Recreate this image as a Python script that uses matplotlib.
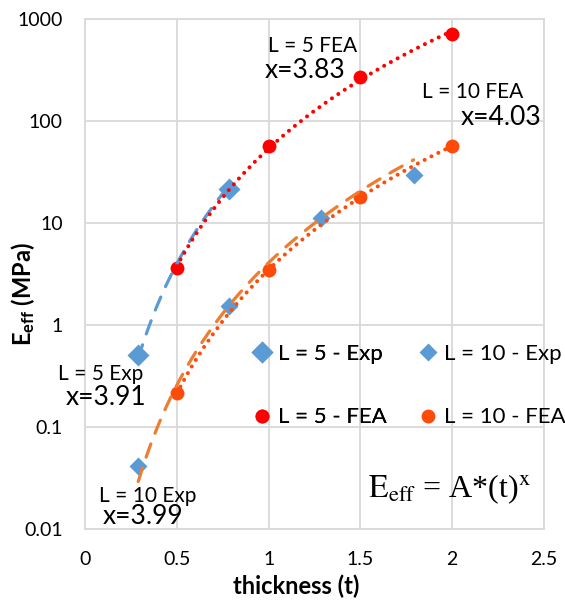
import numpy as np
import matplotlib
matplotlib.use("Agg")
import matplotlib.pyplot as plt
from matplotlib.lines import Line2D

plt.rcParams['font.family'] = ['Lato', 'DejaVu Sans']
plt.rcParams['mathtext.fontset'] = 'custom'
plt.rcParams['mathtext.rm'] = 'Lato'
plt.rcParams['mathtext.bf'] = 'Lato:bold'
plt.rcParams['mathtext.it'] = 'Lato:italic'

# ---- data -------------------------------------------------------------
t_exp5 = [0.29, 0.785]
e_exp5 = [0.51, 21.5]

t_exp10 = [0.29, 0.785, 1.285, 1.79]
e_exp10 = [0.041, 1.55, 11.2, 29.5]

t_fea5 = [0.5, 1.0, 1.5, 2.0]
e_fea5 = [3.62, 56.5, 268, 713]

t_fea10 = [0.5, 1.0, 1.5, 2.0]
e_fea10 = [0.214, 3.46, 18.1, 56.5]

# power-law exponents of the fitted trendlines  E = A * t^x
x_exp5, x_exp10, x_fea5, x_fea10 = 3.91, 3.99, 3.83, 4.03

legend_labels = ["L = 5 - Exp", "L = 10 - Exp", "L = 5 - FEA", "L = 10 - FEA"]
xticks = [0, 0.5, 1, 1.5, 2, 2.5]
yticks = [0.01, 0.1, 1, 10, 100, 1000]
ytick_labels = ["0.01", "0.1", "1", "10", "100", "1000"]

# ---- colours ------------------------------------------------------------
c_blue = '#5B9BD5'
c_red = '#FF0000'
c_orng = '#FF4B0A'
c_dash_orng = '#ED7D31'
c_grid = '#D9D9D9'


def power_fit(t, e, x):
    """Prefactor A of E = A*t^x for a fixed exponent x (log least squares)."""
    t = np.asarray(t, float)
    e = np.asarray(e, float)
    logA = np.mean(np.log10(e) - x * np.log10(t))
    return 10 ** logA


fig = plt.figure(figsize=(5.65, 6.01), dpi=100)
ax = fig.add_axes([85 / 565, 1 - 529 / 601, 459 / 565, 510 / 601])
ax.set_yscale('log')
ax.set_xlim(0, 2.5)
ax.set_ylim(0.01, 1000)

# markers
ms_big_d, ms_small_d, ms_dot = 11.2, 9.6, 10
ax.plot(t_exp5, e_exp5, ls='none', marker='D', ms=ms_big_d, color=c_blue,
        mec='none', zorder=3)
ax.plot(t_exp10, e_exp10, ls='none', marker='D', ms=ms_small_d, color=c_blue,
        mec='none', zorder=3)
ax.plot(t_fea5, e_fea5, ls='none', marker='o', ms=ms_dot, color=c_red,
        mec='none', zorder=3)
ax.plot(t_fea10, e_fea10, ls='none', marker='o', ms=ms_dot, color=c_orng,
        mec='none', zorder=3)

# trendlines
dash = (0, (4.4, 3.6))
dot = (0, (0.01, 1.9))


def trend(t, e, x, color, ls, lw, z):
    A = power_fit(t, e, x)
    tt = np.linspace(min(t), max(t), 200)
    ax.plot(tt, A * tt ** x, color=color, ls=ls, lw=lw,
            dash_capstyle='round', zorder=z)


trend(t_exp5, e_exp5, x_exp5, c_blue, dash, 2.3, 4)
trend(t_exp10, e_exp10, x_exp10, c_dash_orng, dash, 2.3, 4)
trend(t_fea5, e_fea5, x_fea5, c_red, dot, 2.9, 5)
trend(t_fea10, e_fea10, x_fea10, c_orng, dot, 2.9, 5)

# axes styling
ax.set_xticks(xticks)
ax.set_xticklabels([f"{v:g}" for v in xticks])
ax.set_yticks(yticks)
ax.set_yticklabels(ytick_labels)
ax.minorticks_off()
ax.tick_params(axis='both', length=0, labelsize=14, colors='black')
ax.tick_params(axis='x', pad=16)
ax.tick_params(axis='y', pad=16)
ax.grid(True, color=c_grid, lw=1.3)
ax.set_axisbelow(True)
for s in ax.spines.values():
    s.set_color(c_grid)
    s.set_linewidth(1.3)

ax.set_xlabel("thickness (t)", fontsize=17, fontweight='bold')
ax.xaxis.set_label_coords(0.46, -0.09)
ax.set_ylabel(r"$\mathbf{E_{eff}}$ (MPa)", fontsize=17, fontweight='bold',
              va='center')
ax.yaxis.set_label_coords(-0.135, 0.46)

# trendline annotations
small, big = 15, 19
notes = [
    ("L = 5 FEA", 1.24, 474, small),
    ("x=3.83", 1.20, 264, big),
    ("L = 10 FEA", 2.113, 168, small),
    ("x=4.03", 2.266, 91.4, big),
    ("L = 5 Exp", 0.087, 0.289, small),
    ("x=3.91", 0.114, 0.164, big),
    ("L = 10 Exp", 0.343, 0.0184, small),
    ("x=3.99", 0.316, 0.0112, big),
]
for txt, xx, yy, fs in notes:
    ax.text(xx, yy, txt, fontsize=fs, ha='center', va='baseline',
            zorder=6, clip_on=False)

ax.text(1.54, 0.0206, r"$\mathrm{E_{eff}}$ = A*(t)$^{\mathrm{x}}$",
        fontsize=23, family='Liberation Serif', math_fontfamily='stix',
        ha='left', va='baseline')

# legend: two columns drawn as two legends
h5e = Line2D([], [], ls='none', marker='D', ms=ms_big_d, color=c_blue, mec='none')
h10e = Line2D([], [], ls='none', marker='D', ms=ms_small_d, color=c_blue, mec='none')
h5f = Line2D([], [], ls='none', marker='o', ms=ms_dot, color=c_red, mec='none')
h10f = Line2D([], [], ls='none', marker='o', ms=ms_dot, color=c_orng, mec='none')

leg_kw = dict(frameon=False, fontsize=16, handlelength=1.0,
              handletextpad=0.2, labelspacing=1.95, borderpad=0,
              borderaxespad=0, loc='upper left')
leg1 = fig.legend([h5e, h5f], [legend_labels[0], legend_labels[2]],
                  bbox_to_anchor=(251 / 565, 1 - 344 / 601), **leg_kw)
fig.add_artist(leg1)
leg2 = fig.legend([h10e, h10f], [legend_labels[1], legend_labels[3]],
                  bbox_to_anchor=(417 / 565, 1 - 344 / 601), **leg_kw)

fig.savefig("out.png", dpi=100)
